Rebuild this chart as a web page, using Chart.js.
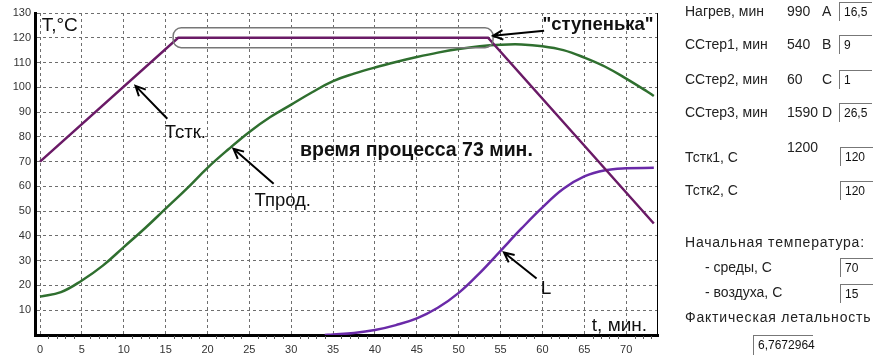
<!DOCTYPE html>
<html>
<head>
<meta charset="utf-8">
<script src="https://cdn.jsdelivr.net/npm/chart.js@4/dist/chart.umd.min.js"></script>
<style>
body { margin: 0; background: #fff; font-family: "Liberation Sans", Arial, sans-serif; }
#wrap { position: relative; width: 882px; height: 362px; overflow: hidden; }
#chart { position: absolute; left: 0; top: 0; }
.lbl { position: absolute; font-size: 14px; color: #222; white-space: nowrap; line-height: 14px; }
.wide { letter-spacing: 0.8px; }
.box { position: absolute; width: 33px; height: 19px; border-top: 1px solid #777; border-left: 1px solid #777;
       font-size: 12px; line-height: 19px; padding-left: 4px; box-sizing: border-box; color: #111; }
</style>
</head>
<body>
<div id="wrap">
  <canvas id="chart" width="882" height="362"></canvas>
</div>
<script>
// Тстк (температура среды)
const tstkT = [0, 16.5, 53.5, 73.3];
const tstkV = [70, 120, 120, 45];

// Тпрод (температура продукта)
const prodT = [0, 2.5, 5, 7.5, 10, 12.5, 15, 17.5, 20, 22.5, 25, 27.5, 30, 32.5, 35, 37.5, 40, 42.5, 45,
               47.5, 50, 52.5, 55, 57.5, 60, 62.5, 65, 67.5, 70, 72.5, 73.3];
const prodV = [15.5, 17.3, 22, 28, 35.5, 43, 51, 59, 67.5, 75, 82, 88, 93, 98, 102.5, 105.5, 108, 110.2, 112.2,
               114, 115.5, 116.6, 117.2, 117.3, 116.6, 115, 112, 108.3, 103.5, 98.3, 96.5];

// L (летальность)
const lT = [34, 35, 37.5, 40, 42.5, 45, 47.5, 50, 52.5, 55, 57.5, 60, 62.5, 65, 67.5, 70, 73.3];
const lV = [0, 0.2, 0.8, 2, 4, 6.7, 11, 17, 25, 34, 43, 51.5, 59, 64, 66.5, 67.3, 67.5];

const xTicks = [0, 5, 10, 15, 20, 25, 30, 35, 40, 45, 50, 55, 60, 65, 70];
const yTicks = [10, 20, 30, 40, 50, 60, 70, 80, 90, 100, 110, 120, 130];

// поля справа
const params = [
  ['Нагрев, мин', '990', 'A', '16,5'],
  ['ССтер1, мин', '540', 'B', '9'],
  ['ССтер2, мин', '60', 'C', '1'],
  ['ССтер3, мин', '1590', 'D', '26,5']
];

const pts = (xs, ys) => xs.map((x, i) => ({ x: x, y: ys[i] }));

// подписи и стрелки на графике (в единицах осей)
const arrows = [
  [15.2, 87.3, 11.4, 100.6],
  [27.9, 61.1, 23.1, 75.2],
  [59.3, 22.8, 55.4, 33.3],
  [60.2, 122.8, 54.1, 120.8]
];
const notes = [
  { text: 'T,°C', t: 0.2, v: 125, font: '19px "Liberation Sans"', align: 'left' },
  { text: 'Тстк.', t: 14.9, v: 81.6, font: '18.5px "Liberation Sans"', align: 'left' },
  { text: 'Тпрод.', t: 25.6, v: 54.3, font: '18.5px "Liberation Sans"', align: 'left' },
  { text: 'L', t: 59.8, v: 18.8, font: '19px "Liberation Sans"', align: 'left' },
  { text: 't, мин.', t: 72.5, v: 3.9, font: '19px "Liberation Sans"', align: 'right' },
  { text: '"ступенька"', t: 60, v: 125, font: 'bold 18.5px "Liberation Sans"', align: 'left' },
  { text: 'время процесса 73 мин.', t: 31.05, v: 74.4, font: 'bold 19.5px "Liberation Sans"', align: 'left' }
];
const stepBox = { t1: 15.9, t2: 54.1, v1: 116, v2: 124 };

const extras = {
  id: 'extras',
  afterDatasetsDraw(chart) {
    const { ctx, chartArea, scales: { x, y } } = chart;
    ctx.save();
    // правая рамка
    ctx.strokeStyle = '#000';
    ctx.lineWidth = 1;
    ctx.beginPath();
    ctx.moveTo(chartArea.right - 0.5, chartArea.top);
    ctx.lineTo(chartArea.right - 0.5, chartArea.bottom);
    ctx.stroke();
    // мелкие деления по оси t
    ctx.strokeStyle = '#555';
    for (let t = 1; t < 74; t++) {
      if (t % 5 === 0) continue;
      const px = Math.round(x.getPixelForValue(t)) + 0.5;
      ctx.beginPath();
      ctx.moveTo(px, chartArea.bottom + 1);
      ctx.lineTo(px, chartArea.bottom + 4);
      ctx.stroke();
    }
    // рамка "ступеньки"
    const bx1 = x.getPixelForValue(stepBox.t1), bx2 = x.getPixelForValue(stepBox.t2);
    const by1 = y.getPixelForValue(stepBox.v2), by2 = y.getPixelForValue(stepBox.v1);
    ctx.strokeStyle = '#777';
    ctx.lineWidth = 1.5;
    ctx.beginPath();
    ctx.roundRect(bx1, by1, bx2 - bx1, by2 - by1, 8);
    ctx.stroke();
    // стрелки
    ctx.strokeStyle = '#000';
    ctx.lineWidth = 2;
    arrows.forEach(a => {
      const x1 = x.getPixelForValue(a[0]), y1 = y.getPixelForValue(a[1]);
      const x2 = x.getPixelForValue(a[2]), y2 = y.getPixelForValue(a[3]);
      const ang = Math.atan2(y2 - y1, x2 - x1);
      ctx.beginPath();
      ctx.moveTo(x1, y1);
      ctx.lineTo(x2, y2);
      ctx.moveTo(x2 - 11 * Math.cos(ang - 0.45), y2 - 11 * Math.sin(ang - 0.45));
      ctx.lineTo(x2, y2);
      ctx.lineTo(x2 - 11 * Math.cos(ang + 0.45), y2 - 11 * Math.sin(ang + 0.45));
      ctx.stroke();
    });
    // подписи
    ctx.fillStyle = '#111';
    ctx.textBaseline = 'middle';
    notes.forEach(n => {
      ctx.font = n.font;
      ctx.textAlign = n.align;
      ctx.fillText(n.text, x.getPixelForValue(n.t), y.getPixelForValue(n.v));
    });
    ctx.restore();
  }
};

new Chart(document.getElementById('chart'), {
  type: 'line',
  data: {
    datasets: [
      { label: 'Тстк', data: pts(tstkT, tstkV), borderColor: '#6a1a66', borderWidth: 2.5, tension: 0 },
      { label: 'Тпрод', data: pts(prodT, prodV), borderColor: '#2f6f2f', borderWidth: 2.5, tension: 0.4 },
      { label: 'L', data: pts(lT, lV), borderColor: '#6a2aa8', borderWidth: 2.5, tension: 0.4 }
    ]
  },
  options: {
    responsive: false,
    animation: false,
    events: [],
    layout: { padding: { top: 13, right: 224, left: 0, bottom: 0 } },
    elements: { point: { radius: 0 } },
    plugins: { legend: { display: false }, tooltip: { enabled: false } },
    scales: {
      x: {
        type: 'linear', min: -0.6, max: 73.8,
        afterBuildTicks: s => { s.ticks = xTicks.map(v => ({ value: v })); },
        afterFit: s => { s.height = 27; },
        grid: { color: '#6e6e6e', lineWidth: 1, drawTicks: false },
        border: { display: true, color: '#000', width: 3, dash: [3, 3] },
        ticks: { color: '#333', padding: 8, font: { family: 'Liberation Sans', size: 11 } }
      },
      y: {
        type: 'linear', min: 0, max: 130,
        afterBuildTicks: s => { s.ticks = yTicks.map(v => ({ value: v })); },
        afterFit: s => { s.width = 35; },
        grid: { color: '#6e6e6e', lineWidth: 1, drawTicks: false },
        border: { display: true, color: '#000', width: 3, dash: [3, 3] },
        ticks: { color: '#333', padding: 4, font: { family: 'Liberation Sans', size: 11 } }
      }
    }
  },
  plugins: [extras]
});

// правая панель
const wrap = document.getElementById('wrap');
function addLbl(text, left, cy, cls) {
  const d = document.createElement('div');
  d.className = cls || 'lbl';
  d.textContent = text;
  d.style.left = left + 'px';
  d.style.top = (cls === 'box' ? cy : cy - 7) + 'px';
  wrap.appendChild(d);
  return d;
}
const rowY = [11, 44, 79, 112];
const boxTop = [2, 35, 70, 103];
params.forEach((p, i) => {
  addLbl(p[0], 685, rowY[i]);
  addLbl(p[1], 787, rowY[i]);
  addLbl(p[2], 822, rowY[i]);
  addLbl(p[3], 839, boxTop[i], 'box');
});
addLbl('1200', 787, 147);
addLbl('Тстк1, С', 685, 157);
addLbl('120', 840, 147, 'box');
addLbl('Тстк2, С', 685, 190);
addLbl('120', 840, 181, 'box');
addLbl('Начальная температура:', 685, 242, 'lbl wide');
addLbl('- среды, С', 705, 267);
addLbl('70', 840, 258, 'box');
addLbl('- воздуха, С', 705, 292);
addLbl('15', 840, 284, 'box');
addLbl('Фактическая летальность', 685, 317, 'lbl wide');
const res = addLbl('6,7672964', 753, 335, 'box');
res.style.width = '60px';
res.style.height = '20px';
</script>
</body>
</html>
